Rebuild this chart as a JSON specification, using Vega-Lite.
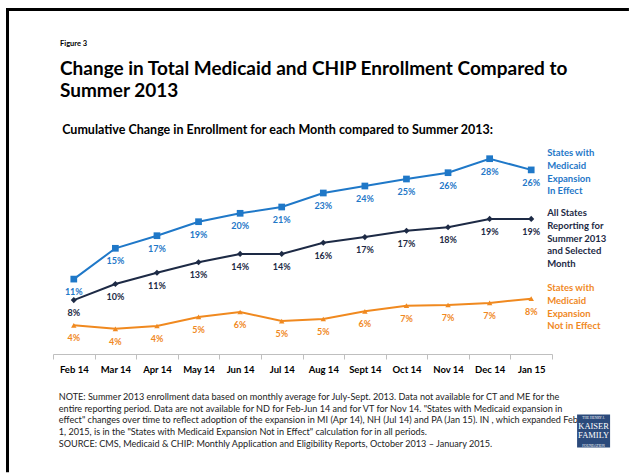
{
  "$schema": "https://vega.github.io/schema/vega-lite/v6.json",
  "width": 499,
  "height": 210,
  "autosize": {"type": "none"},
  "padding": {"left": 53, "top": 144, "right": 79, "bottom": 119},
  "background": "white",
  "config": {"view": {"stroke": null}, "font": "Lato"},
  "datasets": {
    "enrollment": [
      {"month": "Feb 14", "series": "Expansion", "value": 10.7, "label": "11%"},
      {"month": "Mar 14", "series": "Expansion", "value": 15.1, "label": "15%"},
      {"month": "Apr 14", "series": "Expansion", "value": 16.9, "label": "17%"},
      {"month": "May 14", "series": "Expansion", "value": 18.9, "label": "19%"},
      {"month": "Jun 14", "series": "Expansion", "value": 20.1, "label": "20%"},
      {"month": "Jul 14", "series": "Expansion", "value": 21.0, "label": "21%"},
      {"month": "Aug 14", "series": "Expansion", "value": 23.0, "label": "23%"},
      {"month": "Sept 14", "series": "Expansion", "value": 24.0, "label": "24%"},
      {"month": "Oct 14", "series": "Expansion", "value": 25.0, "label": "25%"},
      {"month": "Nov 14", "series": "Expansion", "value": 25.9, "label": "26%"},
      {"month": "Dec 14", "series": "Expansion", "value": 27.9, "label": "28%"},
      {"month": "Jan 15", "series": "Expansion", "value": 26.3, "label": "26%"},
      {"month": "Feb 14", "series": "All States", "value": 7.7, "label": "8%"},
      {"month": "Mar 14", "series": "All States", "value": 10.0, "label": "10%"},
      {"month": "Apr 14", "series": "All States", "value": 11.6, "label": "11%"},
      {"month": "May 14", "series": "All States", "value": 13.1, "label": "13%"},
      {"month": "Jun 14", "series": "All States", "value": 14.3, "label": "14%"},
      {"month": "Jul 14", "series": "All States", "value": 14.3, "label": "14%"},
      {"month": "Aug 14", "series": "All States", "value": 15.9, "label": "16%"},
      {"month": "Sept 14", "series": "All States", "value": 16.7, "label": "17%"},
      {"month": "Oct 14", "series": "All States", "value": 17.6, "label": "17%"},
      {"month": "Nov 14", "series": "All States", "value": 18.1, "label": "18%"},
      {"month": "Dec 14", "series": "All States", "value": 19.3, "label": "19%"},
      {"month": "Jan 15", "series": "All States", "value": 19.3, "label": "19%"},
      {"month": "Feb 14", "series": "Non-expansion", "value": 4.1, "label": "4%"},
      {"month": "Mar 14", "series": "Non-expansion", "value": 3.6, "label": "4%"},
      {"month": "Apr 14", "series": "Non-expansion", "value": 4.0, "label": "4%"},
      {"month": "May 14", "series": "Non-expansion", "value": 5.3, "label": "5%"},
      {"month": "Jun 14", "series": "Non-expansion", "value": 6.0, "label": "6%"},
      {"month": "Jul 14", "series": "Non-expansion", "value": 4.7, "label": "5%"},
      {"month": "Aug 14", "series": "Non-expansion", "value": 5.0, "label": "5%"},
      {"month": "Sept 14", "series": "Non-expansion", "value": 6.1, "label": "6%"},
      {"month": "Oct 14", "series": "Non-expansion", "value": 6.9, "label": "7%"},
      {"month": "Nov 14", "series": "Non-expansion", "value": 7.0, "label": "7%"},
      {"month": "Dec 14", "series": "Non-expansion", "value": 7.3, "label": "7%"},
      {"month": "Jan 15", "series": "Non-expansion", "value": 7.9, "label": "8%"}
    ],
    "single": [{}]
  },
  "layer": [
    {
      "data": {"name": "enrollment"},
      "encoding": {
        "x": {
          "field": "month",
          "type": "ordinal",
          "sort": ["Feb 14", "Mar 14", "Apr 14", "May 14", "Jun 14", "Jul 14", "Aug 14", "Sept 14", "Oct 14", "Nov 14", "Dec 14", "Jan 15"],
          "scale": {"type": "band", "paddingInner": 0, "paddingOuter": 0},
          "axis": {
            "title": null,
            "grid": false,
            "labelAngle": 0,
            "domainColor": "#bfbfbf",
            "domainWidth": 1,
            "tickColor": "#bfbfbf",
            "tickSize": 5,
            "tickBand": "extent",
            "labelFont": "Lato",
            "labelFontSize": 9.5,
            "labelFontWeight": "bold",
            "labelColor": "black",
            "labelPadding": 5
          }
        },
        "y": {
          "field": "value",
          "type": "quantitative",
          "scale": {"domain": [0, 30], "nice": false, "zero": false},
          "axis": null
        },
        "color": {
          "field": "series",
          "type": "nominal",
          "scale": {"domain": ["Expansion", "All States", "Non-expansion"], "range": ["#1f78c8", "#1d2a45", "#f0891f"]},
          "legend": null
        }
      },
      "layer": [
        {"mark": {"type": "line", "strokeWidth": 2}},
        {
          "mark": {"type": "point", "filled": true, "opacity": 1},
          "encoding": {
            "shape": {"field": "series", "type": "nominal", "scale": {"domain": ["Expansion", "All States", "Non-expansion"], "range": ["square", "diamond", "triangle-up"]}, "legend": null},
            "size": {"field": "series", "type": "nominal", "scale": {"domain": ["Expansion", "All States", "Non-expansion"], "range": [45, 30, 38]}, "legend": null}
          }
        },
        {
          "mark": {"type": "text", "dy": 13, "fontSize": 9, "fontWeight": "bold", "font": "Lato"},
          "encoding": {"text": {"field": "label"}}
        },
        {
          "transform": [{"filter": "datum.series == 'Expansion' && datum.month == 'Jan 15'"}],
          "mark": {"type": "text", "align": "left", "baseline": "alphabetic", "dx": 16, "dy": -13.6, "fontSize": 9.5, "fontWeight": "bold", "font": "Lato", "lineHeight": 12.7},
          "encoding": {"text": {"value": ["States with", "Medicaid", "Expansion", "In Effect"]}}
        },
        {
          "transform": [{"filter": "datum.series == 'All States' && datum.month == 'Jan 15'"}],
          "mark": {"type": "text", "align": "left", "baseline": "alphabetic", "dx": 16, "dy": -2.6, "fontSize": 9.5, "fontWeight": "bold", "font": "Lato", "lineHeight": 12.7},
          "encoding": {"text": {"value": ["All States", "Reporting for", "Summer 2013", "and Selected", "Month"]}}
        },
        {
          "transform": [{"filter": "datum.series == 'Non-expansion' && datum.month == 'Jan 15'"}],
          "mark": {"type": "text", "align": "left", "baseline": "alphabetic", "dx": 16, "dy": -7.4, "fontSize": 9.5, "fontWeight": "bold", "font": "Lato", "lineHeight": 12.7},
          "encoding": {"text": {"value": ["States with", "Medicaid", "Expansion", "Not in Effect"]}}
        }
      ]
    },
    {
      "data": {"name": "single"},
      "encoding": {
        "x": {"datum": 0, "type": "quantitative", "scale": {"domain": [0, 12], "nice": false, "zero": false}, "axis": null},
        "y": {"datum": 0, "type": "quantitative", "scale": {"domain": [0, 30], "nice": false, "zero": false}, "axis": null}
      },
      "layer": [
        {
          "mark": {"type": "rule", "color": "black", "strokeWidth": 3, "strokeCap": "butt"},
          "encoding": {
            "x": {"datum": -1.094, "type": "quantitative", "scale": {"domain": [0, 12], "nice": false, "zero": false}, "axis": null},
            "x2": {"datum": -1.094},
            "y": {"datum": 49.43, "type": "quantitative", "scale": {"domain": [0, 30], "nice": false, "zero": false}, "axis": null},
            "y2": {"datum": -16.9}
          }
        },
        {
          "mark": {"type": "rule", "color": "black", "strokeWidth": 3, "strokeCap": "butt"},
          "encoding": {
            "x": {"datum": -1.13, "type": "quantitative", "scale": {"domain": [0, 12], "nice": false, "zero": false}, "axis": null},
            "x2": {"datum": 13.85},
            "y": {"datum": 49.2, "type": "quantitative", "scale": {"domain": [0, 30], "nice": false, "zero": false}, "axis": null},
            "y2": {"datum": 49.2}
          }
        },
        {
          "mark": {"type": "text", "align": "left", "baseline": "alphabetic", "fontSize": 7.5, "fontWeight": "bold", "font": "Lato", "color": "black", "text": "Figure 3"},
          "encoding": {
            "x": {"datum": 0.168, "type": "quantitative", "scale": {"domain": [0, 12], "nice": false, "zero": false}, "axis": null},
            "y": {"datum": 43.93, "type": "quantitative", "scale": {"domain": [0, 30], "nice": false, "zero": false}, "axis": null}
          }
        },
        {
          "mark": {"type": "text", "align": "left", "baseline": "alphabetic", "fontSize": 19, "fontWeight": "bold", "font": "Lato", "color": "black", "lineHeight": 22,
            "text": ["Change in Total Medicaid and CHIP Enrollment Compared to", "Summer 2013"]},
          "encoding": {
            "x": {"datum": 0.168, "type": "quantitative", "scale": {"domain": [0, 12], "nice": false, "zero": false}, "axis": null},
            "y": {"datum": 39.86, "type": "quantitative", "scale": {"domain": [0, 30], "nice": false, "zero": false}, "axis": null}
          }
        },
        {
          "mark": {"type": "text", "align": "left", "baseline": "alphabetic", "fontSize": 12.5, "fontWeight": "bold", "font": "Lato", "color": "black", "text": "Cumulative Change in Enrollment for each Month compared to Summer 2013:"},
          "encoding": {
            "x": {"datum": 0.22, "type": "quantitative", "scale": {"domain": [0, 12], "nice": false, "zero": false}, "axis": null},
            "y": {"datum": 31.4, "type": "quantitative", "scale": {"domain": [0, 30], "nice": false, "zero": false}, "axis": null}
          }
        },
        {
          "mark": {"type": "text", "align": "left", "baseline": "alphabetic", "fontSize": 9.1, "font": "Lato", "color": "#222222", "lineHeight": 11.7,
            "text": [
              "NOTE: Summer 2013 enrollment data based on monthly average  for July-Sept. 2013. Data not available for CT and ME for the",
              "entire reporting period. Data are not available for ND for Feb-Jun 14 and for VT for Nov 14. \"States with Medicaid expansion in",
              "effect\" changes over time to reflect adoption of the expansion in MI (Apr 14), NH (Jul 14) and PA (Jan 15). IN , which expanded Feb",
              "1, 2015, is in the \"States with Medicaid Expansion Not in Effect\" calculation for in all periods.",
              "SOURCE: CMS, Medicaid & CHIP: Monthly Application and Eligibility Reports, October 2013 \u2013 January 2015."
            ]},
          "encoding": {
            "x": {"datum": 0.14, "type": "quantitative", "scale": {"domain": [0, 12], "nice": false, "zero": false}, "axis": null},
            "y": {"datum": -6.57, "type": "quantitative", "scale": {"domain": [0, 30], "nice": false, "zero": false}, "axis": null}
          }
        },
        {
          "mark": {"type": "point", "shape": "square", "filled": true, "opacity": 1, "color": "#2b4a7b", "size": 1089},
          "encoding": {
            "x": {"datum": 13.0, "type": "quantitative", "scale": {"domain": [0, 12], "nice": false, "zero": false}, "axis": null},
            "y": {"datum": -11, "type": "quantitative", "scale": {"domain": [0, 30], "nice": false, "zero": false}, "axis": null}
          }
        },
        {
          "mark": {"type": "text", "align": "center", "baseline": "alphabetic", "fontSize": 8.5, "font": "Liberation Serif", "color": "white", "lineHeight": 9, "text": ["KAISER", "FAMILY"]},
          "encoding": {
            "x": {"datum": 13.0, "type": "quantitative", "scale": {"domain": [0, 12], "nice": false, "zero": false}, "axis": null},
            "y": {"datum": -10.7, "type": "quantitative", "scale": {"domain": [0, 30], "nice": false, "zero": false}, "axis": null}
          }
        },
        {
          "mark": {"type": "text", "align": "center", "baseline": "alphabetic", "fontSize": 3.5, "font": "Liberation Serif", "color": "white", "text": "THE HENRY J."},
          "encoding": {
            "x": {"datum": 13.0, "type": "quantitative", "scale": {"domain": [0, 12], "nice": false, "zero": false}, "axis": null},
            "y": {"datum": -9.3, "type": "quantitative", "scale": {"domain": [0, 30], "nice": false, "zero": false}, "axis": null}
          }
        },
        {
          "mark": {"type": "text", "align": "center", "baseline": "alphabetic", "fontSize": 3.5, "font": "Liberation Serif", "color": "white", "text": "FOUNDATION"},
          "encoding": {
            "x": {"datum": 13.0, "type": "quantitative", "scale": {"domain": [0, 12], "nice": false, "zero": false}, "axis": null},
            "y": {"datum": -13.3, "type": "quantitative", "scale": {"domain": [0, 30], "nice": false, "zero": false}, "axis": null}
          }
        }
      ]
    }
  ],
  "resolve": {"scale": {"x": "independent"}, "axis": {"x": "independent"}}
}
